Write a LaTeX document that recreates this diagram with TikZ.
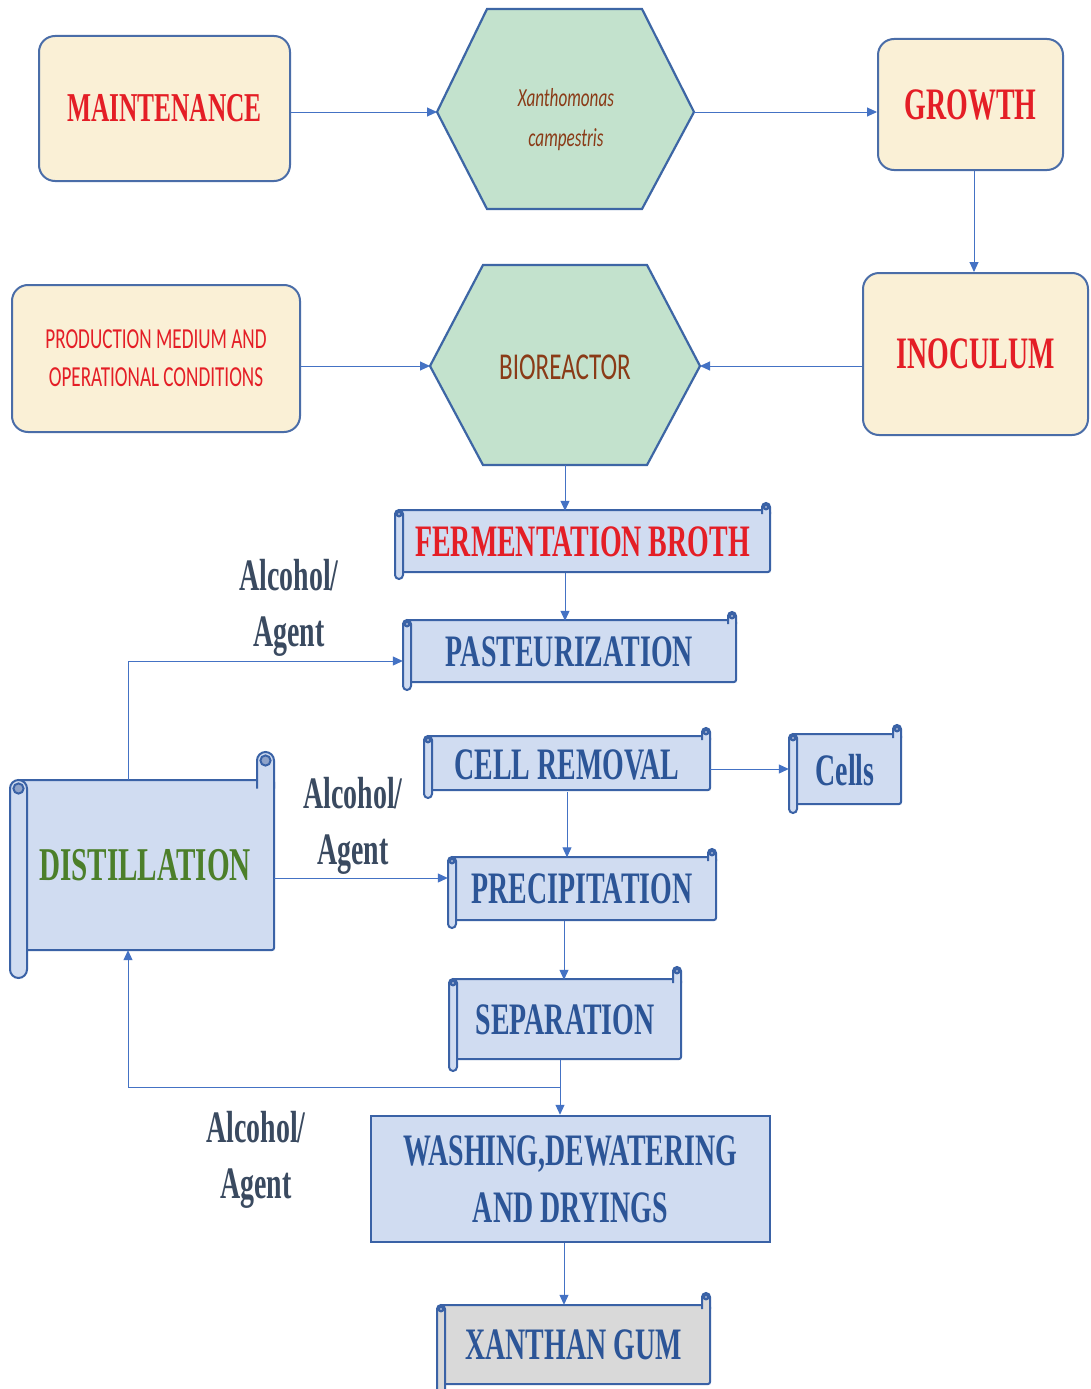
\documentclass[tikz,border=0pt]{standalone}
\usepackage{fontspec}
\setmainfont{Liberation Serif}
\newfontfamily\cserif[FakeStretch=0.62]{Liberation Serif}
\newfontfamily\csans[FakeStretch=0.66]{Carlito}
\usetikzlibrary{arrows.meta}
\definecolor{textred}{HTML}{E41E26}
\definecolor{textblue}{HTML}{2C5597}
\definecolor{textgreen}{HTML}{4C7F2A}
\definecolor{textbrown}{HTML}{8A3B17}
\definecolor{labelcol}{HTML}{3A4A60}
\definecolor{creamfill}{HTML}{FAF0D6}
\definecolor{boxline}{HTML}{4A6DA8}
\definecolor{hexfill}{HTML}{C3E2CD}
\definecolor{hexline}{HTML}{3D66A5}
\definecolor{scrfill}{HTML}{D0DCF1}
\definecolor{grayfill}{HTML}{D9D9D9}
\definecolor{scrline}{HTML}{3A62A6}
\definecolor{curlcol}{HTML}{8FA3C9}
\definecolor{arrowblue}{HTML}{4472C4}
\newcommand\scrollshape[7]{%
  \fill[#7] ({#1+#5},{#2+#6}) rectangle (#3,{#4-#6});
  \draw[scrollline, rounded corners=2pt] ({#1+#5},{#2+#6}) rectangle (#3,{#4-#6});
  \fill[#7, rounded corners=#5 pt] ({#3-2*#5},#2) rectangle (#3,{#2+#6+#5});
  \draw[scrollline, rounded corners=#5 pt] ({#3-2*#5},{#2+#6+#5}) -- ({#3-2*#5},#2) -- (#3,#2) -- (#3,{#2+#6+#5});
  \draw[scrollline, fill=curlcol] ({#3-#5},{#2+#5}) circle[radius={0.6*#5}];
  \draw[scrollline, fill=#7, rounded corners=#5 pt] (#1,{#2+#6}) rectangle ({#1+2*#5},#4);
  \draw[scrollline, fill=curlcol] ({#1+#5},{#2+#6+#5}) circle[radius={0.6*#5}];
}
\tikzset{
  cream/.style={draw=boxline, line width=2pt, fill=creamfill, rounded corners=16pt, inner sep=0pt},
  hexa/.style={draw=hexline, line width=2.2pt, fill=hexfill, line join=miter},
  scrollline/.style={draw=scrline, line width=2pt},
  conn/.style={draw=arrowblue, line width=1pt, -{Triangle[length=10pt,width=9pt]}},
  serifbig/.style={font=\cserif\bfseries\fontsize{45}{54}\selectfont},
  redtxt/.style={serifbig, text=textred},
  bluetxt/.style={serifbig, text=textblue},
  bodynode/.style={inner sep=0pt},
  alclabel/.style={font=\cserif\bfseries\fontsize{45}{56}\selectfont, text=labelcol, align=center, inner sep=0pt},
}
\begin{document}
\begin{tikzpicture}[x=1pt,y=-1pt]
\useasboundingbox[fill=white] (0,0) rectangle (1090,1389);

% top row
\node[cream, minimum width=251pt, minimum height=145pt, font=\cserif\bfseries\fontsize{41}{50}\selectfont, text=textred] (maint) at (164.5,108.5) {MAINTENANCE};
\draw[hexa] (437,112) -- (487,9) -- (642,9) -- (694,112) -- (642,209) -- (487,209) -- cycle;
\coordinate (xcL) at (437,112);
\coordinate (xcR) at (694,112);
\node[font=\csans\itshape\fontsize{26}{40}\selectfont, text=textbrown, align=center] (xc) at (566,120) {Xanthomonas\\campestris};
\node[cream, minimum width=185pt, minimum height=131pt, redtxt] (growth) at (970.5,104.5) {GROWTH};

% second row
\node[cream, minimum width=288pt, minimum height=147pt, font=\csans\fontsize{29}{38}\selectfont, text=textred, align=center] (prod) at (156,358.5) {PRODUCTION MEDIUM AND\\OPERATIONAL CONDITIONS};
\draw[hexa] (430,366) -- (483,265) -- (647,265) -- (700,366) -- (647,465) -- (483,465) -- cycle;
\coordinate (bioL) at (430,366);
\coordinate (bioR) at (700,366);
\coordinate (bioB) at (565,465);
\node[font=\csans\fontsize{38}{46}\selectfont, text=textbrown] (bio) at (565,367) {BIOREACTOR};
\node[cream, minimum width=225pt, minimum height=162pt, redtxt] (inoc) at (975.5,354) {INOCULUM};

% scrolls
\scrollshape{395}{503}{770}{579}{4}{7}{scrfill}
\node[bodynode, minimum width=375pt, minimum height=62pt, redtxt] (ferm) at (582.5,542) {FERMENTATION BROTH};

\scrollshape{403}{612}{736}{690}{4}{8}{scrfill}
\node[bodynode, minimum width=333pt, minimum height=62pt, bluetxt] (past) at (569.5,652) {PASTEURIZATION};

\scrollshape{424}{728}{710}{798}{4}{8}{scrfill}
\node[bodynode, minimum width=286pt, minimum height=54pt, bluetxt] (cell) at (567,765) {CELL REMOVAL};

\scrollshape{789}{725}{901}{813}{4}{9}{scrfill}
\node[bodynode, minimum width=112pt, minimum height=70pt, bluetxt] (cells) at (845,770) {Cells};

\scrollshape{10}{752}{274}{978}{8.5}{28}{scrfill}
\node[bodynode, minimum width=258pt, minimum height=170pt, font=\cserif\bfseries\fontsize{47}{56}\selectfont, text=textgreen] (dist) at (145,865) {DISTILLATION};

\scrollshape{448}{849}{716}{928}{4}{8}{scrfill}
\node[bodynode, minimum width=268pt, minimum height=63pt, bluetxt] (precip) at (582,889) {PRECIPITATION};

\scrollshape{449}{967}{681}{1071}{4}{12}{scrfill}
\node[bodynode, minimum width=232pt, minimum height=80pt, bluetxt] (sep) at (565,1020) {SEPARATION};

\node[draw=scrline, line width=2.5pt, fill=scrfill, minimum width=399pt, minimum height=126pt, inner sep=0pt, align=center, font=\cserif\bfseries\fontsize{45}{57}\selectfont, text=textblue] (wash) at (570.5,1179) {WASHING,DEWATERING\\AND DRYINGS};

\scrollshape{437}{1293}{710}{1396}{4}{12}{grayfill}
\node[bodynode, minimum width=273pt, minimum height=79pt, bluetxt] (xan) at (573.5,1344.5) {XANTHAN GUM};

% labels
\node[alclabel] (lab1) at (289,608) {Alcohol/\\Agent};
\node[alclabel] (lab2) at (353,826) {Alcohol/\\Agent};
\node[alclabel] (lab3) at (256,1160) {Alcohol/\\Agent};

% helper coordinates
\coordinate (c974) at (974,0);
\coordinate (c128) at (128,0);
\coordinate (c567) at (567,0);
\coordinate (c564) at (564,0);
\coordinate (c560) at (560,0);
\coordinate (r661) at (0,661);
\coordinate (r769) at (0,769);
\coordinate (r878) at (0,878);
\coordinate (junc) at (560,1087);

% connectors
\draw[conn] (maint.east |- xcL) -- (xcL);
\draw[conn] (xcR) -- (growth.west |- xcR);
\draw[conn] (growth.south -| c974) -- (inoc.north -| c974);
\draw[conn] (prod.east |- bioL) -- (bioL);
\draw[conn] (inoc.west |- bioR) -- (bioR);
\draw[conn] (bioB) -- (ferm.north -| bioB);
\draw[conn] (ferm.south -| bioB) -- (past.north -| bioB);
\draw[conn] (dist.north -| c128) |- (past.west |- r661);
\draw[conn] (cell.east |- r769) -- (cells.west |- r769);
\draw[conn] (cell.south -| c567) -- (precip.north -| c567);
\draw[conn] (dist.east |- r878) -- (precip.west |- r878);
\draw[conn] (precip.south -| c564) -- (sep.north -| c564);
\draw[conn] (sep.south -| c560) -- (wash.north -| c560);
\draw[conn] (junc) -| (dist.south -| c128);
\draw[conn] (wash.south -| c564) -- (xan.north -| c564);
\end{tikzpicture}
\end{document}
